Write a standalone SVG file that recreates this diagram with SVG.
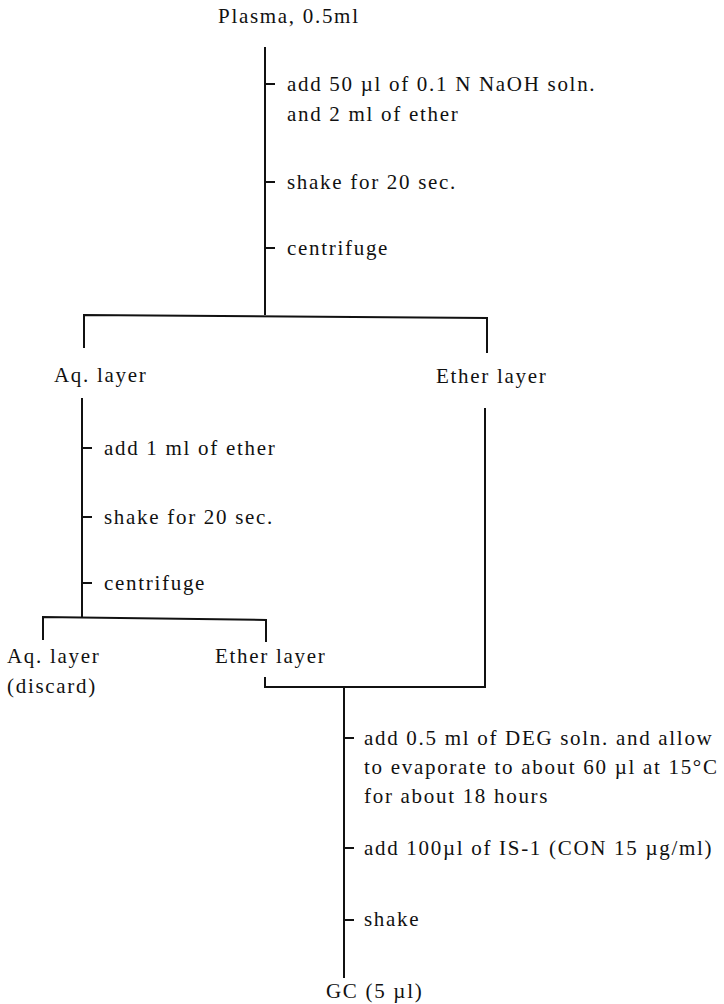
<svg xmlns="http://www.w3.org/2000/svg" width="724" height="1004" viewBox="0 0 724 1004">
<style>
text{font-family:"Liberation Serif","Times New Roman",serif;font-size:21px;letter-spacing:1.7px;fill:#111}
.c{stroke:#111;stroke-width:2;fill:none}
</style>
<rect width="724" height="1004" fill="#fff"/>
<g id="connectors">
<path class="c" d="M265 47V315"/>
<path class="c" d="M265 84H275M265 182H275M265 248H275"/>
<path class="c" d="M84 348V315L487 318V353"/>
<path class="c" d="M82 398V618"/>
<path class="c" d="M82 448H92M82 517H92M82 583H92"/>
<path class="c" d="M43 640V617L266 620V642"/>
<path class="c" d="M485 408V687H265V677"/>
<path class="c" d="M344 687V978"/>
<path class="c" d="M344 738H354M344 848H354M344 920H354"/>
</g>
<g id="n-plasma"><text x="218" y="23">Plasma, 0.5ml</text></g>
<g id="s1"><text x="287" y="91">add 50 µl of 0.1 N NaOH soln.</text><text x="287" y="121">and 2 ml of ether</text></g>
<g id="s2"><text x="287" y="189">shake for 20 sec.</text></g>
<g id="s3"><text x="287" y="255">centrifuge</text></g>
<g id="n-aq1"><text x="54" y="382">Aq. layer</text></g>
<g id="n-ether1"><text x="436" y="383">Ether layer</text></g>
<g id="s4"><text x="104" y="455">add 1 ml of ether</text></g>
<g id="s5"><text x="104" y="524">shake for 20 sec.</text></g>
<g id="s6"><text x="104" y="590">centrifuge</text></g>
<g id="n-aq2"><text x="7" y="663">Aq. layer</text><text x="7" y="693">(discard)</text></g>
<g id="n-ether2"><text x="215" y="663">Ether layer</text></g>
<g id="s7"><text x="364" y="745">add  0.5 ml of DEG soln. and allow</text><text x="364" y="774">to evaporate to about 60 µl at 15°C</text><text x="364" y="803">for about 18 hours</text></g>
<g id="s8"><text x="364" y="855">add 100µl of IS-1 (CON 15 µg/ml)</text></g>
<g id="s9"><text x="364" y="926">shake</text></g>
<g id="n-gc"><text x="326" y="998">GC (5 µl)</text></g>
</svg>
